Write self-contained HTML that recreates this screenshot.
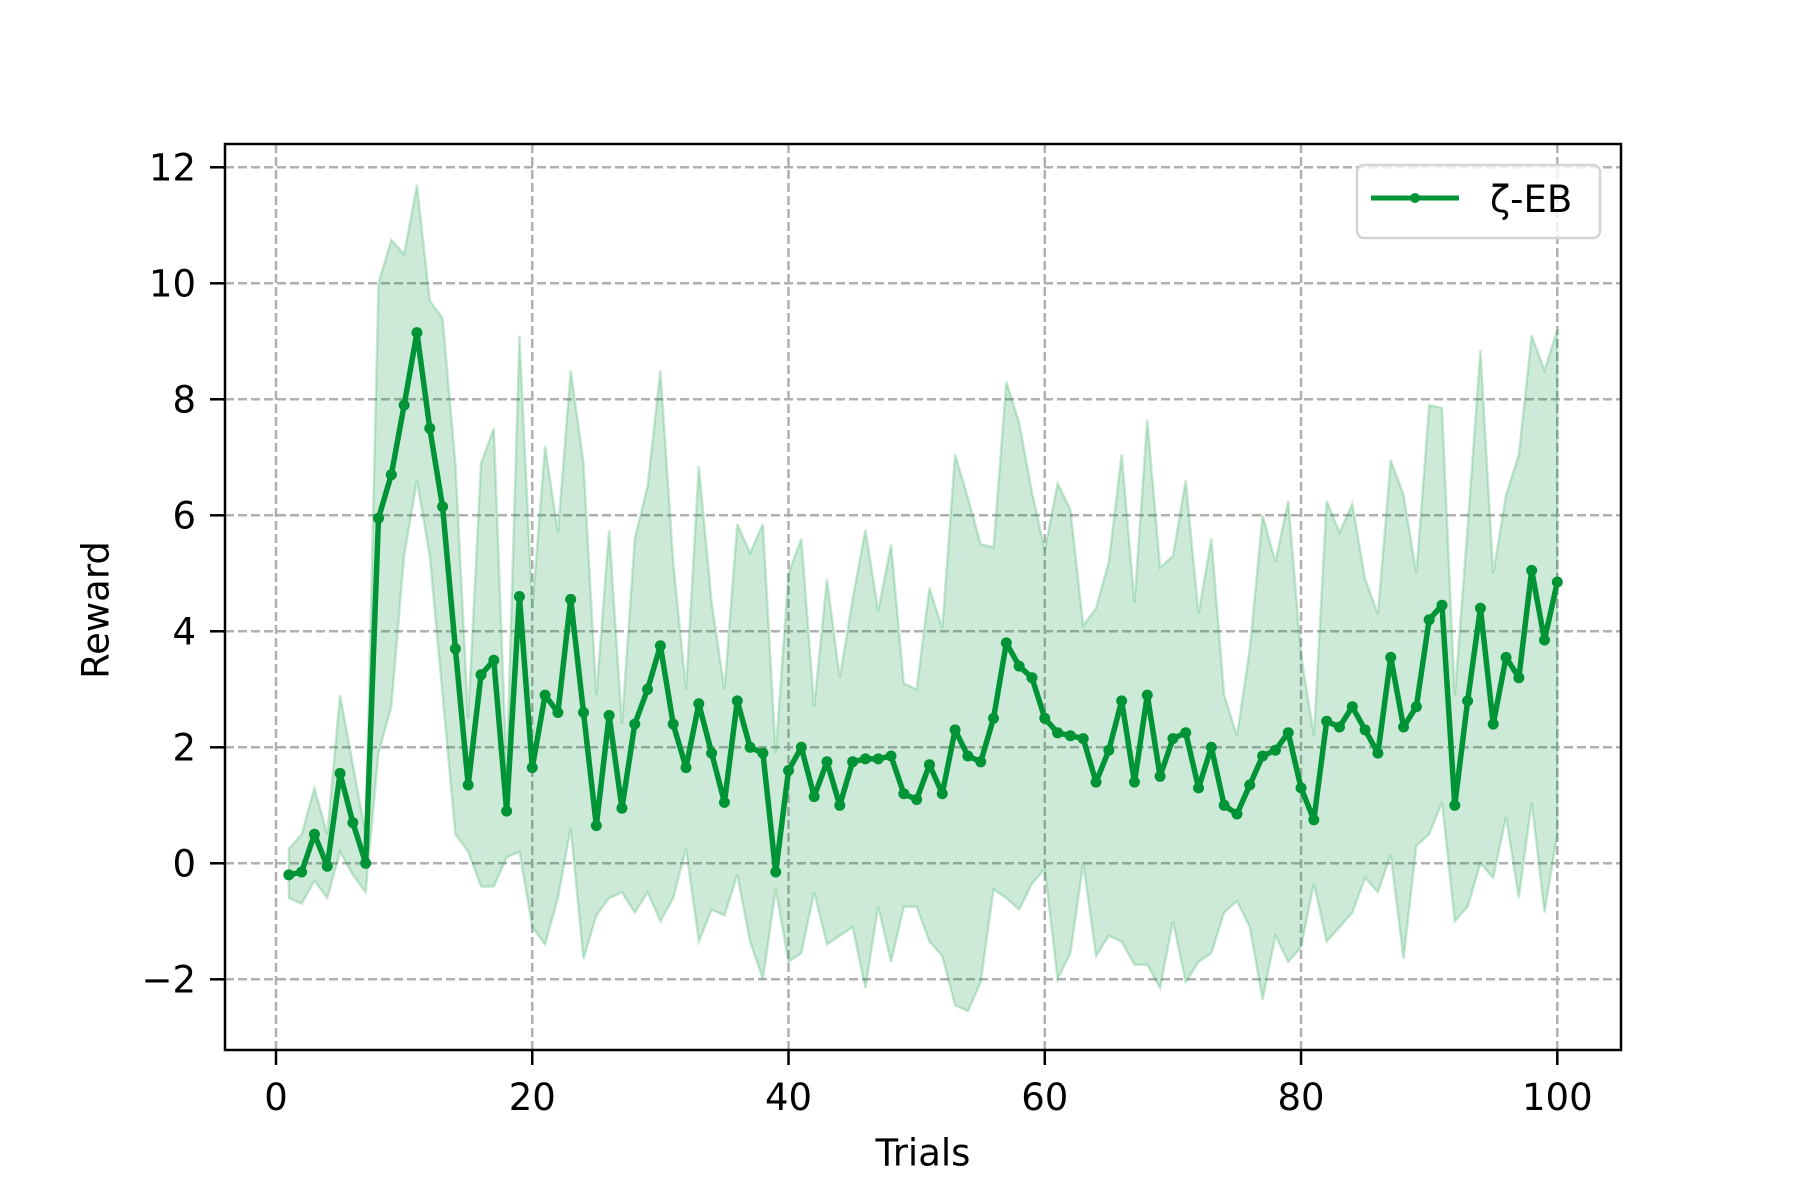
<!DOCTYPE html>
<html><head><meta charset="utf-8"><style>
html,body{margin:0;padding:0;background:#fff;}
svg{display:block;font-family:"DejaVu Sans","Liberation Sans",sans-serif;}
</style></head><body>
<svg id="chart" width="1800" height="1200" viewBox="0 0 1800 1200" xmlns="http://www.w3.org/2000/svg">
<rect width="1800" height="1200" fill="#fff"/>
<g id="grid"></g>
<g id="band"></g>
<g id="series"></g>
<rect x="225" y="144" width="1396" height="906" fill="none" stroke="#000" stroke-width="2.5"/>
<g id="ticks"></g>
<text x="923" y="1155" font-size="37" text-anchor="middle" dominant-baseline="middle">Trials</text>
<text transform="translate(98,610) rotate(-90)" font-size="37" text-anchor="middle" dominant-baseline="middle">Reward</text>
<g>
<rect x="1357" y="165" width="243" height="73" rx="7" fill="#fff" fill-opacity="0.8" stroke="#d4d4d4" stroke-width="2.5"/>
<line x1="1371" y1="198" x2="1459" y2="198" stroke="#009436" stroke-width="5"/>
<circle cx="1415" cy="198" r="5" fill="#009436"/>
<text x="1490" y="212" font-size="37">ζ-EB</text>
</g>
</svg>
<script>
const trials = Array.from({length:100},(_,i)=>i+1);
const meanValues = [-0.2,-0.15,0.5,-0.05,1.55,0.7,0.0,5.95,6.7,7.9,9.15,7.5,6.15,3.7,1.35,3.25,3.5,0.9,4.6,1.65,2.9,2.6,4.55,2.6,0.65,2.55,0.95,2.4,3.0,3.75,2.4,1.65,2.75,1.9,1.05,2.8,2.0,1.9,-0.15,1.6,2.0,1.15,1.75,1.0,1.75,1.8,1.8,1.85,1.2,1.1,1.7,1.2,2.3,1.85,1.75,2.5,3.8,3.4,3.2,2.5,2.25,2.2,2.15,1.4,1.95,2.8,1.4,2.9,1.5,2.15,2.25,1.3,2.0,1.0,0.85,1.35,1.85,1.95,2.25,1.3,0.75,2.45,2.35,2.7,2.3,1.9,3.55,2.35,2.7,4.2,4.45,1.0,2.8,4.4,2.4,3.55,3.2,5.05,3.85,4.85];
const upperValues = [0.25,0.5,1.3,0.5,2.9,1.7,0.5,10.0,10.75,10.5,11.7,9.7,9.4,6.9,2.5,6.9,7.5,1.6,9.1,4.4,7.2,5.7,8.5,6.9,2.9,5.75,2.4,5.6,6.5,8.5,5.2,3.0,6.85,4.5,3.0,5.85,5.35,5.85,1.9,5.0,5.6,2.7,4.9,3.2,4.55,5.75,4.35,5.5,3.1,3.0,4.75,4.05,7.05,6.3,5.5,5.45,8.3,7.6,6.4,5.4,6.55,6.1,4.1,4.4,5.2,7.05,4.5,7.65,5.1,5.3,6.6,4.3,5.6,2.9,2.2,3.7,6.0,5.2,6.25,3.6,2.2,6.25,5.7,6.2,4.9,4.3,6.95,6.35,5.0,7.9,7.85,2.9,5.8,8.85,5.0,6.35,7.05,9.1,8.5,9.2];
const lowerValues = [-0.6,-0.7,-0.3,-0.6,0.2,-0.2,-0.5,1.9,2.7,5.3,6.6,5.3,2.9,0.5,0.2,-0.4,-0.4,0.1,0.2,-1.1,-1.4,-0.6,0.6,-1.65,-0.9,-0.6,-0.5,-0.85,-0.5,-1.0,-0.6,0.25,-1.35,-0.8,-0.9,-0.2,-1.35,-2.0,-0.45,-1.7,-1.55,-0.5,-1.4,-1.25,-1.1,-2.15,-0.75,-1.7,-0.75,-0.75,-1.35,-1.6,-2.45,-2.55,-2.05,-0.45,-0.6,-0.8,-0.35,-0.1,-2.0,-1.55,0.0,-1.6,-1.25,-1.35,-1.75,-1.75,-2.15,-1.0,-2.05,-1.7,-1.55,-0.85,-0.65,-1.1,-2.35,-1.25,-1.7,-1.45,-0.35,-1.35,-1.1,-0.85,-0.25,-0.5,0.15,-1.65,0.3,0.5,1.05,-1.0,-0.75,0.0,-0.25,0.8,-0.6,1.05,-0.85,0.5];
const xTicks = [0,20,40,60,80,100];
const yTicks = [-2,0,2,4,6,8,10,12];
const yTickLabels = ["\u22122","0","2","4","6","8","10","12"];

const NS="http://www.w3.org/2000/svg";
const X0=276, XS=(1557.3-276)/100, Y0=863.3, YS=58;
function xScale(v){return X0+v*XS;}
function yScale(v){return Y0-v*YS;}
function mk(tag,parent,attrs){const e=document.createElementNS(NS,tag);for(const k in attrs)e.setAttribute(k,attrs[k]);parent.appendChild(e);return e;}

const grid=document.getElementById('grid'), ticks=document.getElementById('ticks');
xTicks.forEach(t=>{
  const x=xScale(t);
  const g=mk('line',grid,{x1:x,y1:144,x2:x,y2:1050,stroke:'#b0b0b0','stroke-width':2.5,'stroke-dasharray':'9,4'});
  
  
  const tk=mk('line',ticks,{x1:x,y1:1050,x2:x,y2:1065,stroke:'#000','stroke-width':2.5});
  
  
  const tx=mk('text',ticks,{x:x,y:1110,'font-size':37,'text-anchor':'middle'});
  tx.textContent=t;
  
  
});
yTicks.forEach((t,i)=>{
  const y=yScale(t);
  const g=mk('line',grid,{x1:225,y1:y,x2:1621,y2:y,stroke:'#b0b0b0','stroke-width':2.5,'stroke-dasharray':'9,4'});
  
  
  const tk=mk('line',ticks,{x1:210,y1:y,x2:225,y2:y,stroke:'#000','stroke-width':2.5});
  
  
  const tx=mk('text',ticks,{x:196,y:y+13,'font-size':37,'text-anchor':'end'});
  tx.textContent=yTickLabels[i];
  
  
});

const band=document.getElementById('band');
let pts=trials.map((t,i)=>xScale(t)+','+yScale(upperValues[i]));
for(let i=trials.length-1;i>=0;i--) pts.push(xScale(trials[i])+','+yScale(lowerValues[i]));
const poly=mk('polygon',band,{points:pts.join(' '),fill:'#009436','fill-opacity':0.2,stroke:'#009436','stroke-opacity':0.2,'stroke-width':2.5});



const series=document.getElementById('series');
const line=mk('polyline',series,{points:trials.map((t,i)=>xScale(t)+','+yScale(meanValues[i])).join(' '),fill:'none',stroke:'#009436','stroke-width':5.5,'stroke-linejoin':'round'});


trials.forEach((t,i)=>{
  const c=mk('circle',series,{cx:xScale(t),cy:yScale(meanValues[i]),r:5.5,fill:'#009436'});
  
  
});
</script>
</body></html>
